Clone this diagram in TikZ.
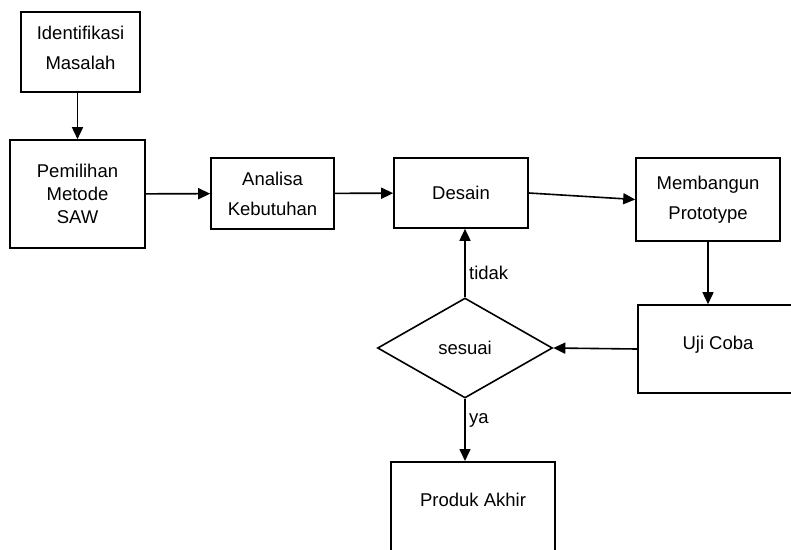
\documentclass[tikz,border=0pt]{standalone}
\usepackage{fontspec}
\setmainfont{Liberation Sans}
\usetikzlibrary{arrows.meta}
\usetikzlibrary{positioning}
\usepgflibrary{shapes.geometric}

\begin{document}
\begin{tikzpicture}[x=1pt,y=-1pt,font=\fontsize{18.5}{30}\selectfont,
    box/.style={rectangle,draw,align=center,line width=1.6pt,inner sep=0pt},
    flow/.style={-{Triangle[length=12pt,width=11pt]},line width=1.6pt}]
      \useasboundingbox (0,0) rectangle (791,549) ;
      \clip (0,0) rectangle (791,549) ;
      \node[box,minimum width=119pt,minimum height=80pt,text depth=9pt] (ident) at (80.5,52) {Identifikasi\\Masalah} ;
      \node[box,minimum width=135pt,minimum height=108pt,font=\fontsize{18.5}{23}\selectfont] (pemilihan) at (77.5,194) {Pemilihan\\Metode\\SAW} ;
      \node[box,minimum width=123pt,minimum height=71pt] (analisa) at (272.5,193.5) {Analisa\\Kebutuhan} ;
      \node[box,minimum width=134pt,minimum height=70pt] (desain) at (461,193) {Desain} ;
      \node[box,minimum width=144pt,minimum height=83pt] (membangun) at (708,199.5) {Membangun\\Prototype} ;
      \node[box,minimum width=160pt,minimum height=88pt,text height=44pt,text depth=44pt] (ujicoba) at (718,349) {Uji Coba} ;
      \node[diamond,draw,line width=1.6pt,minimum width=175pt,minimum height=100pt,inner sep=0pt] (sesuai) at (465,348) {sesuai} ;
      \node[box,minimum width=164pt,minimum height=100pt,text height=45pt,text depth=55pt,anchor=north] (produk) at (473,461) {Produk Akhir} ;
      \draw [flow] (pemilihan.north |- ident.south) -- (pemilihan.north) ;
      \draw [flow] (pemilihan) -- (analisa) ;
      \draw [flow] (analisa) -- (desain) ;
      \draw [flow] (desain.east) -- (membangun.west) ;
      \draw [flow] (membangun) -- (membangun |- ujicoba.north) ;
      \draw [flow] (ujicoba.west) -- (sesuai.east) ;
      \draw [flow] (sesuai.north) -- (sesuai.north |- desain.south) node[pos=0.35,right] {tidak} ;
      \draw [flow] (sesuai.south) -- (sesuai.south |- produk.north) node[pos=0.35,right] {ya} ;
    \end{tikzpicture}
\end{document}
